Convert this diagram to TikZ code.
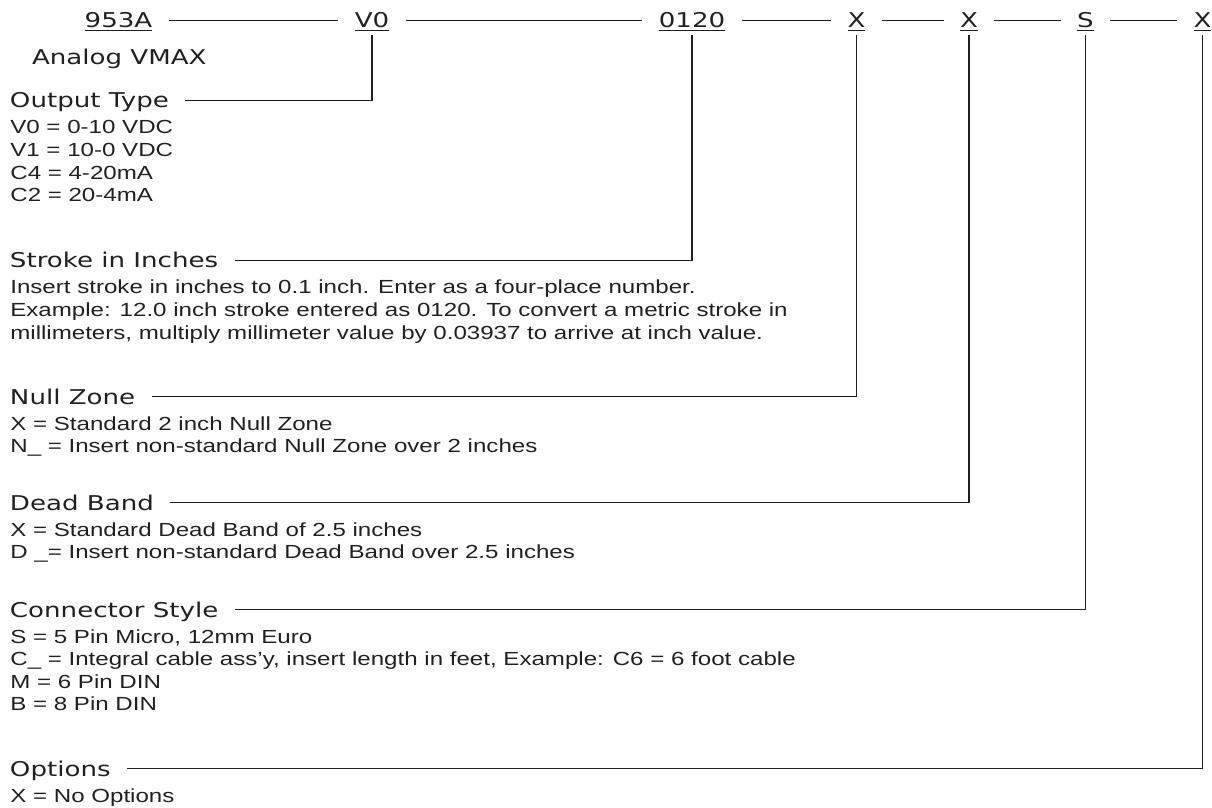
\documentclass[tikz,border=0pt]{standalone}
\usepackage{fontspec}
\usepackage{xcolor}
\usepackage{tikz}
\setmainfont{Liberation Sans}
\newfontfamily\bodyfont[FakeStretch=1.27]{Liberation Sans}
\newfontfamily\headfont[FakeStretch=1.28]{DejaVu Sans}
\definecolor{pnInk}{HTML}{231F20}

\begin{document}
\begin{tikzpicture}[x=0.02cm,y=-0.02cm,
  code/.style={font=\headfont\fontsize{11.6}{14}\selectfont,text=pnInk,
    text height=8.5pt,text depth=0pt,inner xsep=0.32cm,inner ysep=4pt,anchor=base},
  head/.style={font=\headfont\fontsize{11.6}{14}\selectfont,text=pnInk,
    text height=8.5pt,text depth=0pt,inner xsep=0.32cm,inner ysep=0pt,anchor=text},
  body/.style={font=\bodyfont\fontsize{10.8}{12.9}\selectfont,text=pnInk,
    inner sep=0pt,anchor=base west},
  lead/.style={draw=pnInk,line width=0.7pt}]
\useasboundingbox (0,0) rectangle (1212,807);
% part number
\foreach \x/\code [count=\i from 0] in {118.5/953A,372/V0,692/0120,856.5/X,969/X,1085.5/S,1202.5/X}
  \node[code] (c\i) at (\x,28) {\underline{\code}};
\foreach \i [evaluate=\i as \j using int(\i+1)] in {0,...,5}
  \draw[lead] (c\i) -- (c\j);
\node[head] (hvmax) at (32,65) {Analog VMAX};
% fields
\node[head] (hout) at (10,108) {Output Type};
\foreach \t [count=\i] in {V0 = 0-10 VDC,V1 = 10-0 VDC,C4 = 4-20mA,C2 = 20-4mA}
  \node[body] (out\i) at (10,{108+26+(\i-1)*22.6}) {\t};
\node[head] (hstr) at (10,268) {Stroke in Inches};
\foreach \t [count=\i] in {Insert stroke in inches to 0.1 inch. Enter as a four-place number.,
  Example: 12.0 inch stroke entered as 0120. To convert a metric stroke in,
  {millimeters, multiply millimeter value by 0.03937 to arrive at inch value.}}
  \node[body] (str\i) at (10,{268+26+(\i-1)*22.6}) {\t};
\node[head] (hnul) at (10,404) {Null Zone};
\foreach \t [count=\i] in {X = Standard 2 inch Null Zone,N\_ = Insert non-standard Null Zone over 2 inches}
  \node[body] (nul\i) at (10,{404+26+(\i-1)*22.6}) {\t};
\node[head] (hdb) at (10,510) {Dead Band};
\foreach \t [count=\i] in {X = Standard Dead Band of 2.5 inches,D \_= Insert non-standard Dead Band over 2.5 inches}
  \node[body] (db\i) at (10,{510+26+(\i-1)*22.6}) {\t};
\node[head] (hcon) at (10,617) {Connector Style};
\foreach \t [count=\i] in {{S = 5 Pin Micro, 12mm Euro},
  {C\_ = Integral cable ass’y, insert length in feet, Example: C6 = 6 foot cable},
  M = 6 Pin DIN,B = 8 Pin DIN}
  \node[body] (con\i) at (10,{617+26+(\i-1)*22.6}) {\t};
\node[head] (hopt) at (10,776) {Options};
\node[body] (opt1) at (10,802) {X = No Options};
% leads
\foreach \i/\h in {1/hout,2/hstr,3/hnul,4/hdb,5/hcon,6/hopt}
  \draw[lead] (c\i) |- (\h);
\end{tikzpicture}
\end{document}
